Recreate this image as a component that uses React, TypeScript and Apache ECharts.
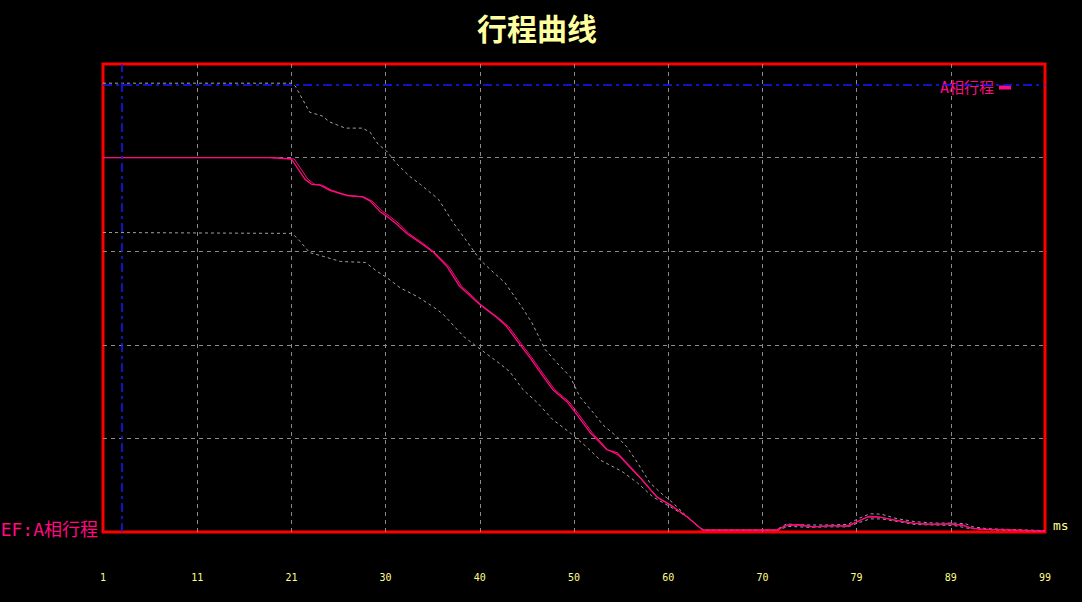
import React, { useEffect, useRef } from "react";
import * as echarts from "echarts";

const TITLE = "行程曲线";
const SERIES_NAME = "A相行程";
const LEFT_LABEL = "EF:A相行程";
const X_UNIT = "ms";
const xTickLabels = ["1", "11", "21", "30", "40", "50", "60", "70", "79", "89", "99"];
const refLevel = 95.5;
const refTime = 3;

const traceA: [number, number][] = [
  [1, 80], [18.4, 80], [20.6, 79.7], [22.0, 75.4], [22.7, 74.3], [23.6, 74.1], [24.6, 73.0],
  [26.4, 71.9], [28.0, 71.6], [28.8, 70.7], [29.8, 68.5], [30.5, 67.5], [31.6, 65.7],
  [32.6, 63.8], [34.0, 61.8], [35.3, 59.9], [36.8, 56.7], [38.1, 52.5], [39.5, 49.9],
  [40.2, 48.6], [42.0, 45.8], [43.0, 43.9], [44.4, 40.0], [45.4, 37.3], [46.8, 33.2],
  [47.8, 30.4], [49.3, 27.8], [50.3, 25.1], [51.7, 21.2], [53.4, 17.6], [54.5, 16.9],
  [56.9, 11.6], [58.6, 7.5], [60.0, 5.8], [61.8, 3.2], [63.1, 0.9], [63.4, 0.4],
  [71.1, 0.4], [72.2, 1.5], [73.2, 1.5], [74.9, 1.1], [76.6, 1.3], [78.4, 1.3], [79.4, 2.1],
  [80.5, 3.2], [81.8, 3.2], [83.2, 2.6], [85.3, 1.9], [87.0, 1.7], [89.1, 1.7], [90.5, 1.5],
  [91.2, 0.9], [92.2, 0.6], [95.7, 0.4], [98.8, 0.2], [99, 0.2],
];

const traceB: [number, number][] = [
  [1, 80], [18.4, 80], [20.9, 79.7], [22.3, 75.4], [23.0, 74.3], [23.8, 74.1], [24.8, 73.0],
  [26.5, 71.9], [28.1, 71.6], [29.0, 70.7], [30.1, 68.5], [30.8, 67.5], [31.9, 65.7],
  [32.8, 63.8], [34.2, 61.8], [35.4, 59.9], [37.0, 56.7], [38.3, 52.5], [39.7, 49.9],
  [40.3, 48.6], [42.1, 45.8], [43.2, 43.9], [44.6, 40.0], [45.6, 37.3], [47.0, 33.2],
  [48.0, 30.4], [49.5, 27.8], [50.5, 25.1], [51.9, 21.2], [53.5, 17.6], [54.6, 16.4],
  [57.2, 10.8], [58.8, 7.2], [60.2, 5.6], [61.9, 3.0], [63.2, 0.7], [63.4, 0.4],
  [71.0, 0.4], [72.0, 1.3], [73.4, 1.6], [75.0, 1.1], [76.8, 1.4], [78.6, 1.2], [79.6, 2.4],
  [80.8, 3.4], [82.0, 3.1], [83.5, 2.5], [85.5, 1.8], [87.2, 1.6], [89.3, 1.8], [90.8, 1.2],
  [91.5, 0.8], [92.5, 0.6], [95.9, 0.4], [99, 0.2],
];

const upperBand: [number, number][] = [
  [1, 95.9], [20.6, 95.9], [21.0, 95.3], [22.5, 89.7], [23.8, 88.9], [24.6, 87.6],
  [26.2, 86.3], [28.0, 86.3], [28.8, 85.4], [29.6, 82.9], [30.5, 81.4], [31.6, 78.6],
  [32.9, 76.0], [34.0, 74.3], [35.9, 71.1], [37.4, 66.2], [38.9, 62.0], [40.2, 58.2],
  [41.6, 55.5], [42.8, 53.3], [44.4, 48.6], [45.6, 44.8], [47.0, 39.0], [48.2, 36.2],
  [49.6, 33.2], [50.6, 28.9], [52.0, 25.5], [53.0, 22.9], [54.5, 20.3], [55.5, 18.2],
  [56.6, 14.8], [57.9, 10.5], [59.0, 8.4], [60.3, 6.2], [61.8, 3.2], [63.1, 0.9],
  [63.5, 0.4], [71.0, 0.4], [72.1, 1.7], [74.0, 1.5], [76.5, 1.5], [78.5, 1.6], [79.5, 2.8],
  [80.8, 3.9], [82.0, 3.8], [83.5, 2.9], [85.5, 2.2], [87.5, 1.9], [89.5, 1.9], [90.7, 1.8],
  [91.5, 1.1], [93.0, 0.7], [96.0, 0.5], [99, 0.3],
];

const lowerBand: [number, number][] = [
  [1, 64.0], [20.7, 63.8], [21.5, 62.1], [22.5, 59.7], [23.9, 58.9], [25.7, 57.8],
  [28.3, 57.6], [29.5, 55.7], [30.5, 54.4], [31.9, 52.2], [33.7, 50.3], [35.3, 48.2],
  [36.4, 46.5], [38.5, 41.8], [39.9, 39.6], [42.0, 36.4], [43.3, 34.3], [44.7, 30.4],
  [46.2, 27.6], [47.8, 24.0], [49.6, 21.2], [51.4, 18.0], [52.7, 15.4], [54.1, 13.9],
  [55.1, 12.8], [56.6, 10.5], [58.2, 7.5], [60.0, 5.4], [61.8, 3.2], [63.1, 0.9],
  [63.5, 0.4], [71.2, 0.4], [72.3, 1.2], [74.5, 1.0], [76.5, 1.1], [78.5, 1.1], [79.5, 1.9],
  [80.8, 2.8], [82.0, 2.8], [83.5, 2.3], [85.5, 1.6], [87.5, 1.5], [89.5, 1.4], [91.0, 0.8],
  [93.0, 0.5], [96.0, 0.3], [99, 0.2],
];

const X_STEP = 9.8;
const toAxis = (pts: [number, number][]) => pts.map(([t, v]) => [t - 1, v]);

const PINK = "#ff0a80";
const YELLOW = "#ffff88";
const GRAY = "#8a8a8a";
const BAND = "#a0a0a0";
const BLUE = "#1818ff";
const CJK = '"Noto Sans CJK SC", sans-serif';
const MONO = '"DejaVu Sans Mono", "Noto Sans CJK SC", monospace';

export default function App() {
  const ref = useRef<HTMLDivElement>(null);
  useEffect(() => {
    if (!ref.current) return;
    const chart = echarts.init(ref.current, null, { renderer: "svg" });
    chart.setOption({
      animation: false,
      backgroundColor: "#000000",
      title: {
        text: TITLE,
        left: 472,
        top: 7,
        textStyle: { color: "#ffffa0", fontSize: 30, fontWeight: "bold", fontFamily: CJK },
      },
      legend: {
        data: [SERIES_NAME],
        right: 66,
        top: 75,
        align: "right",
        icon: "rect",
        itemWidth: 12,
        itemHeight: 4,
        textStyle: { color: PINK, fontSize: 15, fontFamily: MONO },
      },
      grid: {
        left: 103,
        right: 37,
        top: 64,
        bottom: 70,
        show: true,
        borderColor: "#ff0000",
        borderWidth: 3,
        backgroundColor: "transparent",
      },
      xAxis: {
        type: "value",
        min: 0,
        max: 98,
        interval: X_STEP,
        name: X_UNIT,
        nameLocation: "end",
        nameGap: 8,
        nameTextStyle: { color: YELLOW, fontSize: 13, fontFamily: MONO, verticalAlign: "bottom", align: "left" },
        axisLine: { show: false },
        axisTick: { show: false },
        axisLabel: {
          color: YELLOW,
          fontSize: 10,
          fontFamily: MONO,
          margin: 40,
          formatter: (v: number) => xTickLabels[Math.round(v / X_STEP)] ?? "",
        },
        splitLine: {
          show: true,
          showMinLine: false,
          showMaxLine: false,
          lineStyle: { color: GRAY, type: [4, 4], width: 1 },
        },
      },
      yAxis: {
        type: "value",
        min: 0,
        max: 100,
        interval: 20,
        axisLine: { show: false },
        axisTick: { show: false },
        axisLabel: { show: false },
        splitLine: {
          show: true,
          showMinLine: false,
          showMaxLine: false,
          lineStyle: { color: GRAY, type: [4, 4], width: 1 },
        },
      },
      graphic: [
        {
          type: "text",
          right: 984,
          top: 520,
          style: { text: LEFT_LABEL, fill: PINK, font: `18px ${MONO}` },
        },
      ],
      series: [
        {
          name: "lower",
          type: "line",
          data: toAxis(lowerBand),
          symbol: "none",
          lineStyle: { color: BAND, width: 1, type: [3, 3] },
          z: 2,
        },
        {
          name: "upper",
          type: "line",
          data: toAxis(upperBand),
          symbol: "none",
          lineStyle: { color: BAND, width: 1, type: [3, 3] },
          z: 2,
          markLine: {
            silent: true,
            symbol: "none",
            label: { show: false },
            lineStyle: { color: BLUE, width: 1.5, type: [9, 4, 3, 4] },
            data: [{ xAxis: refTime - 1 }, { yAxis: refLevel }],
          },
        },
        {
          name: "B",
          type: "line",
          data: toAxis(traceB),
          symbol: "none",
          lineStyle: { color: PINK, width: 1 },
          z: 3,
        },
        {
          name: SERIES_NAME,
          type: "line",
          data: toAxis(traceA),
          symbol: "none",
          itemStyle: { color: PINK },
          lineStyle: { color: PINK, width: 1.3 },
          z: 4,
        },
      ],
    });
    return () => chart.dispose();
  }, []);
  return (
    <div
      ref={ref}
      style={{ position: "fixed", left: 0, top: 0, width: 1082, height: 602, background: "#000" }}
    />
  );
}
